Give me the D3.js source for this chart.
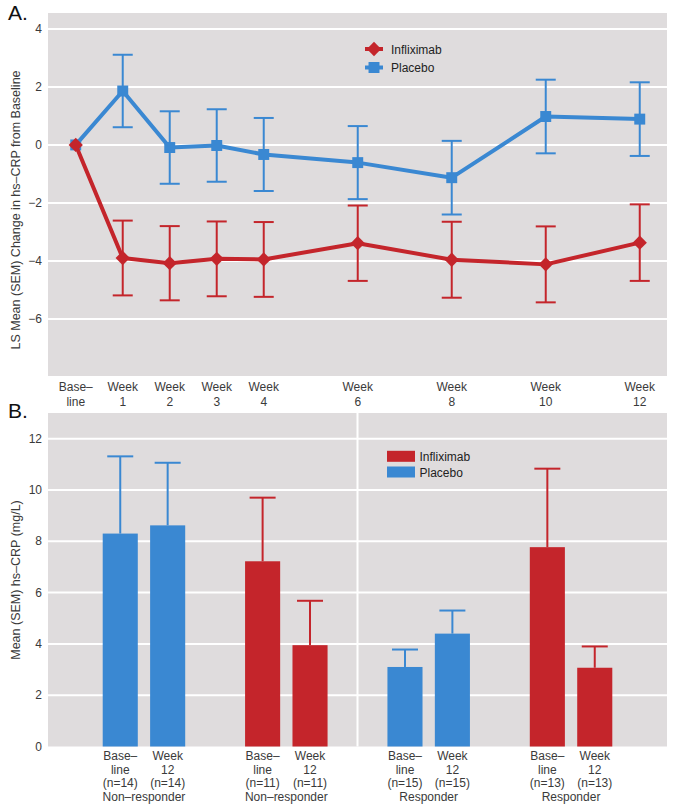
<!DOCTYPE html>
<html>
<head>
<meta charset="utf-8">
<script src="https://cdn.jsdelivr.net/npm/d3@7"></script>
<style>
  body { margin: 0; background: #fff; }
  text { font-family: "Liberation Sans", Arial, sans-serif; }
</style>
</head>
<body>
<div id="chart"></div>
<script>
// Panel A data
const weeks = [0, 1, 2, 3, 4, 6, 8, 10, 12];
const weekLabels = [["Base\u2013", "line"], ["Week", "1"], ["Week", "2"], ["Week", "3"], ["Week", "4"],
  ["Week", "6"], ["Week", "8"], ["Week", "10"], ["Week", "12"]];
const inflixMean = [0, -3.9, -4.08, -3.93, -3.95, -3.39, -3.96, -4.12, -3.37];
const inflixSem = [0, 1.29, 1.28, 1.29, 1.29, 1.3, 1.31, 1.31, 1.32];
const placeboMean = [0, 1.86, -0.09, -0.02, -0.33, -0.61, -1.13, 0.98, 0.89];
const placeboSem = [0, 1.25, 1.25, 1.25, 1.26, 1.26, 1.27, 1.27, 1.27];
const yTicksA = [4, 2, 0, -2, -4, -6];

// Panel B data
const groups = ["NR-Placebo", "NR-Infliximab", "R-Placebo", "R-Infliximab"];
const groupNames = ["Non\u2013responder", "Non\u2013responder", "Responder", "Responder"];
const groupTreatment = ["Placebo", "Infliximab", "Placebo", "Infliximab"];
const visits = ["Baseline", "Week 12"];
const visitLabels = [["Base\u2013", "line"], ["Week", "12"]];
const barMean = [[8.3, 8.62], [7.22, 3.95], [3.1, 4.4], [7.77, 3.07]];
const barUpper = [[11.31, 11.06], [9.7, 5.68], [3.78, 5.3], [10.83, 3.9]];
const barN = [[14, 14], [11, 11], [15, 15], [13, 13]];
const yTicksB = [0, 2, 4, 6, 8, 10, 12];

const red = "#c4252b";
const blue = "#3a88d2";
const bg = "#dfdcdd";
const txt = "#3a3a3a";

const W = 674, H = 809;
const svg = d3.select("#chart").append("svg")
  .attr("width", W).attr("height", H);

const left = 48, right = 667;

// ---------- Panel A ----------
const xA = d3.scaleLinear().domain([-0.59, 12.58]).range([left, right]);
const yA = d3.scaleLinear().domain([-7.97, 4.55]).range([376, 13]);

const gA = svg.append("g");
gA.append("rect")
  .attr("x", left).attr("y", yA.range()[1])
  .attr("width", right - left).attr("height", yA.range()[0] - yA.range()[1])
  .attr("fill", bg);

gA.selectAll(".grid").data(yTicksA).enter().append("line")
  .attr("x1", left).attr("x2", right)
  .attr("y1", d => yA(d)).attr("y2", d => yA(d))
  .attr("stroke", "#fff").attr("stroke-width", 2);

gA.selectAll(".ytick").data(yTicksA).enter().append("text")
  .attr("x", left - 6).attr("y", d => yA(d) + 4)
  .attr("text-anchor", "end").attr("font-size", 12).attr("fill", txt)
  .text(d => d < 0 ? "\u2212" + Math.abs(d) : d);

const xt = gA.selectAll(".xtick").data(weeks).enter().append("text")
  .attr("text-anchor", "middle").attr("font-size", 12).attr("fill", txt);
xt.append("tspan").attr("x", d => xA(d)).attr("y", 391).text((d, i) => weekLabels[i][0]);
xt.append("tspan").attr("x", d => xA(d)).attr("y", 406).text((d, i) => weekLabels[i][1]);

gA.append("text")
  .attr("transform", `translate(20,${210}) rotate(-90)`)
  .attr("text-anchor", "middle").attr("font-size", 12.5).attr("fill", txt)
  .text("LS Mean (SEM) Change in hs\u2013CRP from Baseline");

const line = d3.line().x(d => xA(d.w)).y(d => yA(d.m));

function drawSeries(means, sems, color, shape) {
  const pts = weeks.map((w, i) => ({ w: w, m: means[i], s: sems[i] }));
  const errs = pts.filter(d => d.s > 0);
  gA.append("g").selectAll("line").data(errs).enter().append("line")
    .attr("x1", d => xA(d.w)).attr("x2", d => xA(d.w))
    .attr("y1", d => yA(d.m + d.s)).attr("y2", d => yA(d.m - d.s))
    .attr("stroke", color).attr("stroke-width", 2);
  [1, -1].forEach(sign => {
    gA.append("g").selectAll("line").data(errs).enter().append("line")
      .attr("x1", d => xA(d.w) - 10).attr("x2", d => xA(d.w) + 10)
      .attr("y1", d => yA(d.m + sign * d.s)).attr("y2", d => yA(d.m + sign * d.s))
      .attr("stroke", color).attr("stroke-width", 2);
  });
  gA.append("path").datum(pts)
    .attr("d", line).attr("fill", "none")
    .attr("stroke", color).attr("stroke-width", 4).attr("stroke-linejoin", "round");
  gA.append("g").selectAll("path").data(pts).enter().append("path")
    .attr("transform", d => `translate(${xA(d.w)},${yA(d.m)})`)
    .attr("d", d3.symbol().type(shape === "square" ? d3.symbolSquare : d3.symbolDiamond2)
      .size(shape === "square" ? 120 : 130))
    .attr("fill", color);
}
drawSeries(placeboMean, placeboSem, blue, "square");
drawSeries(inflixMean, inflixSem, red, "diamond");

// legend A
const legA = [{ name: "Infliximab", color: red, shape: d3.symbolDiamond2, size: 130 },
  { name: "Placebo", color: blue, shape: d3.symbolSquare, size: 120 }];
legA.forEach((d, i) => {
  const y = 49 + i * 18.5;
  gA.append("line").attr("x1", 365).attr("x2", 383).attr("y1", y).attr("y2", y)
    .attr("stroke", d.color).attr("stroke-width", 4);
  gA.append("path").attr("transform", `translate(374,${y})`)
    .attr("d", d3.symbol().type(d.shape).size(d.size)).attr("fill", d.color);
  gA.append("text").attr("x", 391).attr("y", y + 4.5)
    .attr("font-size", 12).attr("fill", "#222").text(d.name);
});

svg.append("text").attr("x", 8).attr("y", 20).attr("font-size", 21).attr("fill", "#111").text("A.");

// ---------- Panel B ----------
const xG = d3.scaleBand().domain(groups).range([left, right])
  .paddingInner(0.33).paddingOuter(0.339);
const xV = d3.scaleBand().domain(visits).range([0, xG.bandwidth()])
  .paddingInner(0.26).paddingOuter(0.136);
const yB = d3.scaleLinear().domain([0, 13]).range([746.5, 413]);

const gB = svg.append("g");
gB.append("rect")
  .attr("x", left).attr("y", yB.range()[1])
  .attr("width", right - left).attr("height", yB.range()[0] - yB.range()[1])
  .attr("fill", bg);

gB.selectAll(".grid").data(yTicksB.filter(d => d > 0)).enter().append("line")
  .attr("x1", left).attr("x2", right)
  .attr("y1", d => yB(d)).attr("y2", d => yB(d))
  .attr("stroke", "#fff").attr("stroke-width", 2);

const divX = (xG(groups[1]) + xG.bandwidth() + xG(groups[2])) / 2;
gB.append("line").attr("x1", divX).attr("x2", divX)
  .attr("y1", yB.range()[1]).attr("y2", yB.range()[0])
  .attr("stroke", "#fff").attr("stroke-width", 2);

gB.selectAll(".ytick").data(yTicksB).enter().append("text")
  .attr("x", left - 6).attr("y", d => yB(d) + 4)
  .attr("text-anchor", "end").attr("font-size", 12).attr("fill", txt)
  .text(d => d);

gB.append("text")
  .attr("transform", `translate(20,${580}) rotate(-90)`)
  .attr("text-anchor", "middle").attr("font-size", 12.5).attr("fill", txt)
  .text("Mean (SEM) hs\u2013CRP (mg/L)");

groups.forEach((g, gi) => {
  const color = groupTreatment[gi] === "Infliximab" ? red : blue;
  visits.forEach((v, vi) => {
    const x0 = xG(g) + xV(v);
    const cx = x0 + xV.bandwidth() / 2;
    gB.append("line").attr("x1", cx).attr("x2", cx)
      .attr("y1", yB(barUpper[gi][vi])).attr("y2", yB(barMean[gi][vi]))
      .attr("stroke", color).attr("stroke-width", 2);
    gB.append("line").attr("x1", cx - 13).attr("x2", cx + 13)
      .attr("y1", yB(barUpper[gi][vi])).attr("y2", yB(barUpper[gi][vi]))
      .attr("stroke", color).attr("stroke-width", 2);
    gB.append("rect").attr("x", x0).attr("width", xV.bandwidth())
      .attr("y", yB(barMean[gi][vi])).attr("height", yB(0) - yB(barMean[gi][vi]))
      .attr("fill", color);
    const t = gB.append("text").attr("text-anchor", "middle").attr("font-size", 12).attr("fill", txt);
    t.append("tspan").attr("x", cx).attr("y", 760).text(visitLabels[vi][0]);
    t.append("tspan").attr("x", cx).attr("y", 773.5).text(visitLabels[vi][1]);
    t.append("tspan").attr("x", cx).attr("y", 787).text(`(n=${barN[gi][vi]})`);
  });
  gB.append("text").attr("x", xG(g) + xG.bandwidth() / 2).attr("y", 801)
    .attr("text-anchor", "middle").attr("font-size", 12).attr("fill", txt)
    .text(groupNames[gi]);
});

// legend B
const legB = [{ name: "Infliximab", color: red }, { name: "Placebo", color: blue }];
legB.forEach((d, i) => {
  const y = 456.3 + i * 15.7;
  gB.append("rect").attr("x", 387).attr("y", y - 5.5).attr("width", 28).attr("height", 11)
    .attr("fill", d.color);
  gB.append("text").attr("x", 419.5).attr("y", y + 4.5)
    .attr("font-size", 12).attr("fill", "#222").text(d.name);
});

svg.append("text").attr("x", 8).attr("y", 418).attr("font-size", 21).attr("fill", "#111").text("B.");
</script>
</body>
</html>
